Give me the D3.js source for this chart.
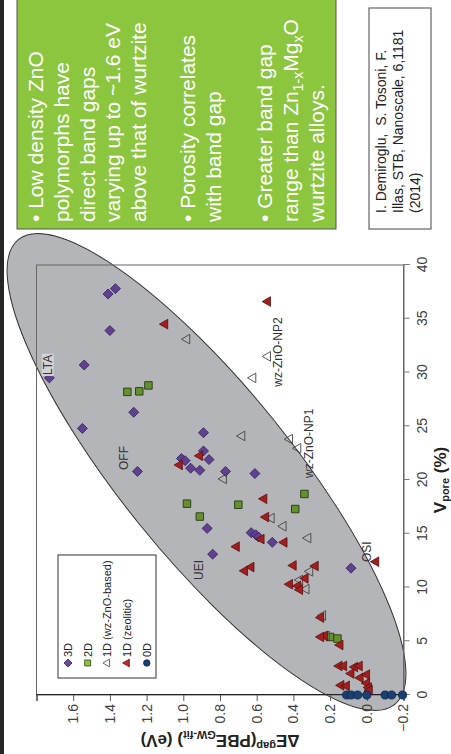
<!DOCTYPE html>
<html lang="en">
<head>
<meta charset="utf-8">
<title>ZnO polymorphs: band gap vs porosity</title>
<script src="https://d3js.org/d3.v7.min.js"></script>
<style>
  body { margin: 0; background: #fff; }
  svg { display: block; font-family: "Liberation Sans", Arial, sans-serif; }
</style>
</head>
<body>
<script>
// --- data: [Vpore (%), dE gap (eV)] ---
var pts3D = [
  [37.8, 1.37], [37.3, 1.41], [33.9, 1.40], [30.7, 1.54], [29.5, 1.73],
  [26.3, 1.27], [24.8, 1.55], [24.4, 0.89], [22.7, 0.89], [21.9, 0.86],
  [22.0, 1.01], [21.8, 0.99], [21.1, 0.96], [20.9, 0.91], [20.8, 1.25],
  [20.8, 0.77], [20.6, 0.61], [15.5, 0.87], [13.1, 0.84], [15.1, 0.63],
  [14.9, 0.605], [14.7, 0.59], [14.2, 0.515], [11.8, 0.086]
];
var pts2D = [
  [28.8, 1.19], [28.25, 1.24], [28.2, 1.305], [17.8, 0.98], [17.7, 0.70],
  [17.3, 0.39], [18.7, 0.34], [16.6, 0.91], [5.4, 0.20], [5.25, 0.16]
];
var pts1Dwz = [
  [33.1, 0.98], [31.5, 0.54], [29.5, 0.62], [24.1, 0.68], [23.8, 0.42],
  [22.95, 0.375], [20.1, 0.78], [16.45, 0.52], [15.7, 0.455], [14.6, 0.32],
  [11.5, 0.31], [10.7, 0.365], [9.85, 0.33], [7.4, 0.24], [5.5, 0.22]
];
var pts1Dzeo = [
  [34.5, 1.10], [36.6, 0.54], [22.25, 0.91], [21.4, 1.02], [18.25, 0.56],
  [16.55, 0.55], [14.5, 0.575], [14.2, 0.45], [13.8, 0.71], [12.4, -0.05],
  [11.9, 0.63], [11.55, 0.665], [12.05, 0.40], [12.0, 0.28], [10.85, 0.335],
  [10.3, 0.42], [10.15, 0.375], [9.8, 0.365], [7.2, 0.25], [5.5, 0.23],
  [5.4, 0.25], [4.65, 0.145], [2.7, 0.15], [2.7, 0.125], [2.6, 0.065],
  [2.7, 0.04], [2.0, 0.085], [1.6, 0.035], [1.9, 0.0], [1.1, 0.0],
  [0.7, -0.01], [0.45, -0.015], [0.9, 0.14], [0.85, 0.11]
];
var pts0D = [
  [0, 0.11], [0, 0.085], [0, 0.05], [0, 0.0], [0, -0.10], [0, -0.135], [0, -0.195]
];

var vporeTicks = [0, 5, 10, 15, 20, 25, 30, 35, 40];
var gapTicks = [-0.2, 0, 0.2, 0.4, 0.6, 0.8, 1.0, 1.2, 1.4, 1.6, 1.8];
var legendNames = ["3D", "2D", "1D (wz-ZnO-based)", "1D (zeolitic)", "0D"];

// point labels: name, Vpore, dE (text start / baseline)
var pointLabels = [
  ["LTA", 29.77, 1.717],
  ["OFF", 20.93, 1.303],
  ["UEI", 10.70, 0.893],
  ["OSI", 12.37, -0.023],
  ["wz-ZnO-NP2", 28.68, 0.462],
  ["wz-ZnO-NP1", 20.19, 0.293]
];

var W = 451, H = 754;
var svg = d3.select("body").append("svg")
  .attr("width", W).attr("height", H);

svg.append("rect").attr("width", W).attr("height", H).attr("fill", "#fff");
// dark strip on the left edge
svg.append("rect").attr("x", 0).attr("y", 0).attr("width", 4).attr("height", H)
  .attr("fill", "#262626");

// the grey ellipse drawn around the data cloud
svg.append("ellipse")
  .attr("transform", "translate(206.5,472) rotate(51)")
  .attr("rx", 299).attr("ry", 85)
  .attr("fill", "#b4b5b9")
  .attr("stroke", "#333").attr("stroke-width", 1);

// everything else is laid out on its side: local width 754, height 451
var g = svg.append("g").attr("transform", "translate(0," + H + ") rotate(-90)");

var x = d3.scaleLinear().domain([0, 40]).range([59, 489]);
var y = d3.scaleLinear().domain([-0.2, 1.8]).range([403.5, 36.5]);

// plot frame
g.append("rect")
  .attr("x", x(0)).attr("y", y(1.8))
  .attr("width", x(40) - x(0)).attr("height", y(-0.2) - y(1.8))
  .attr("fill", "none").attr("stroke", "#666").attr("stroke-width", 1);

var yAxis = g.append("g")
  .attr("transform", "translate(" + x(0) + ",0)")
  .call(d3.axisLeft(y).tickValues(gapTicks).tickSize(6).tickPadding(3)
    .tickFormat(function(d) { return d > 1.7 ? "" : d3.format(".1f")(d); }));
yAxis.select(".domain").attr("stroke", "#222");
yAxis.selectAll(".tick line").attr("stroke", "#555");
yAxis.selectAll("text").attr("font-size", 14).attr("fill", "#404040")
  .attr("font-family", "Liberation Sans, Arial, sans-serif");

var xAxis = g.append("g")
  .attr("transform", "translate(0," + y(-0.2) + ")")
  .call(d3.axisBottom(x).tickValues(vporeTicks).tickSize(6).tickPadding(8));
xAxis.select(".domain").attr("stroke", "#666");
xAxis.selectAll(".tick line").attr("stroke", "#777");
xAxis.selectAll("text").attr("font-size", 14).attr("fill", "#404040")
  .attr("font-family", "Liberation Sans, Arial, sans-serif");

// axis titles
var xt = g.append("text")
  .attr("x", x(20)).attr("y", 446)
  .attr("text-anchor", "middle")
  .attr("font-weight", "bold").attr("font-size", 17).attr("fill", "#222");
xt.append("tspan").text("V");
xt.append("tspan").attr("font-size", 11).attr("dy", 3).text("pore");
xt.append("tspan").attr("dy", -3).text(" (%)");

var yt = g.append("text")
  .attr("transform", "translate(19," + y(0.8) + ") rotate(-90)")
  .attr("text-anchor", "middle")
  .attr("font-weight", "bold").attr("font-size", 17).attr("fill", "#222");
yt.append("tspan").text("\u0394E");
yt.append("tspan").attr("font-size", 11).attr("dy", -7).text("gap");
yt.append("tspan").attr("dy", 7).text("(PBE");
yt.append("tspan").attr("font-size", 11).attr("dy", 4).text("GW-fit");
yt.append("tspan").attr("dy", -4).text(") (eV)");

// markers
var diamond = d3.symbol().type(d3.symbolSquare).size(50);
var square = d3.symbol().type(d3.symbolSquare).size(56);
var tri = d3.symbol().type(d3.symbolTriangle).size(40);
var circ = d3.symbol().type(d3.symbolCircle).size(52);

function pos(d) { return "translate(" + x(d[0]) + "," + y(d[1]) + ")"; }

g.selectAll(".p3d").data(pts3D).enter().append("path")
  .attr("class", "p3d")
  .attr("transform", function(d) { return pos(d) + " rotate(45)"; })
  .attr("d", diamond)
  .attr("fill", "#5f4190").attr("stroke", "#35225e").attr("stroke-width", 0.8);

g.selectAll(".p2d").data(pts2D).enter().append("path")
  .attr("class", "p2d")
  .attr("transform", pos)
  .attr("d", square)
  .attr("fill", "#66902f").attr("stroke", "#2d4514").attr("stroke-width", 1);

g.selectAll(".pwz").data(pts1Dwz).enter().append("path")
  .attr("class", "pwz")
  .attr("transform", pos)
  .attr("d", tri)
  .attr("fill", "none").attr("stroke", "#444").attr("stroke-width", 0.9);

g.selectAll(".pzeo").data(pts1Dzeo).enter().append("path")
  .attr("class", "pzeo")
  .attr("transform", pos)
  .attr("d", tri)
  .attr("fill", "#a31f1f").attr("stroke", "#5a0e0e").attr("stroke-width", 0.8);

g.selectAll(".p0d").data(pts0D).enter().append("path")
  .attr("class", "p0d")
  .attr("transform", pos)
  .attr("d", circ)
  .attr("fill", "#1b3f73").attr("stroke", "#0d2750").attr("stroke-width", 0.8);

// labels next to some structures
pointLabels.forEach(function(d, i) {
  var t = g.append("text")
    .attr("x", x(d[1])).attr("y", y(d[2]))
    .attr("font-size", 12).attr("fill", "#333")
    .text(d[0]);
  if (i === 0) {
    var bb = t.node().getBBox();
    g.insert("rect", function() { return t.node(); })
      .attr("x", bb.x - 1).attr("y", bb.y + 1)
      .attr("width", bb.width + 2).attr("height", bb.height - 2)
      .attr("fill", "#d3d3d6");
  }
});

// legend
var lg = g.append("g").attr("transform", "translate(76,58)");
lg.append("rect").attr("width", 123).attr("height", 98)
  .attr("fill", "#fff").attr("stroke", "#333").attr("stroke-width", 1);
var legendSym = [
  {sym: diamond, rot: 45, fill: "#6a4a9c", stroke: "#35225e"},
  {sym: square, rot: 0, fill: "#8fc044", stroke: "#2d4514"},
  {sym: tri, rot: 0, fill: "none", stroke: "#444"},
  {sym: tri, rot: 0, fill: "#c0282a", stroke: "#5a0e0e"},
  {sym: circ, rot: 0, fill: "#1b3f73", stroke: "#0d2750"}
];
legendNames.forEach(function(name, i) {
  var ly = 10 + i * 19.7;
  var s = legendSym[i];
  lg.append("path")
    .attr("transform", "translate(15," + ly + ") rotate(" + s.rot + ") scale(0.8)")
    .attr("d", s.sym)
    .attr("fill", s.fill).attr("stroke", s.stroke).attr("stroke-width", 1);
  lg.append("text")
    .attr("x", 21).attr("y", ly + 4)
    .attr("font-size", 11).attr("fill", "#222")
    .text(name);
});

// green summary box
g.append("rect")
  .attr("x", 525).attr("y", 17).attr("width", 240).attr("height", 319)
  .attr("fill", "#8cc63f").attr("stroke", "#555").attr("stroke-width", 1);

var greenLines = [
  [43, [["\u2022 Low density ZnO"]]],
  [68.8, [["polymorphs have"]]],
  [94.6, [["direct band gaps"]]],
  [120.4, [["varying up to ~1.6 eV"]]],
  [146.2, [["above that of wurtzite"]]],
  [195, [["\u2022 Porosity correlates"]]],
  [221, [["with band gap"]]],
  [271.5, [["\u2022 Greater band gap"]]],
  [297.5, [["range than Zn"], ["1-x", "sub"], ["Mg"], ["x", "sub"], ["O"]]],
  [323.5, [["wurtzite alloys."]]]
];
var gt = g.append("text").attr("font-size", 21).attr("fill", "#fff");
greenLines.forEach(function(line) {
  var first = true;
  line[1].forEach(function(p) {
    var ts = gt.append("tspan").text(p[0]);
    if (first) { ts.attr("x", 532).attr("y", line[0]); first = false; }
    else if (p[1] === "sub") { ts.attr("y", line[0] + 5).attr("font-size", 14); }
    else { ts.attr("y", line[0]); }
  });
});

// reference box
g.append("rect")
  .attr("x", 525).attr("y", 369).attr("width", 221).attr("height", 62)
  .attr("fill", "#fff").attr("stroke", "#444").attr("stroke-width", 1);
var refLines = ["I. Demiroglu,  S. Tosoni, F.", "Illas, STB, Nanoscale, 6,1181", "(2014)"];
refLines.forEach(function(s, i) {
  g.append("text")
    .attr("x", 541).attr("y", 386 + i * 17)
    .attr("font-size", 14).attr("fill", "#222")
    .attr("xml:space", "preserve")
    .text(s);
});
</script>
</body>
</html>
